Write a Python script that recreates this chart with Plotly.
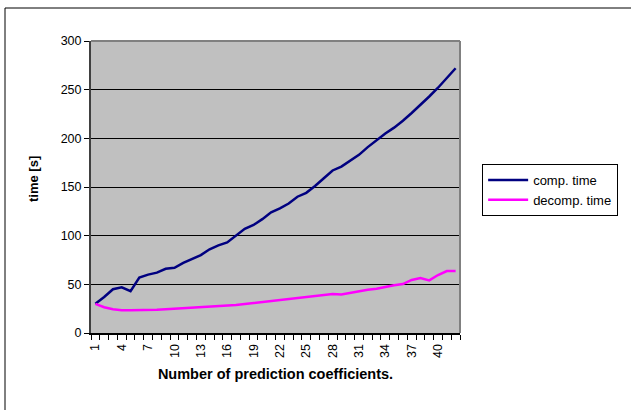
import plotly.graph_objects as go

# Number of prediction coefficients (1..42)
coefficients = list(range(1, 43))

# Compression time [s]
comp_time = [30, 37, 45, 47, 43, 57, 60, 62, 66, 67,
             72, 76, 80, 86, 90, 93, 100, 107, 111, 117,
             124, 128, 133, 140, 144, 151, 159, 167, 171, 177,
             183, 191, 198, 205, 211, 218, 226, 234, 243, 252,
             262, 272]

# Decompression time [s]
decomp_time = [30, 26.5, 24.5, 23.5, 23.3, 23.3, 23.5, 24, 24.5, 25,
               25.5, 26, 26.5, 27, 27.6, 28.2, 28.8, 29.8, 30.8, 31.9,
               32.9, 33.9, 34.8, 35.6, 36.4, 37.3, 38.4, 40, 39.6, 41.4,
               42.8, 44.5, 45.5, 47.6, 49, 50.3, 54.5, 56.5, 54.1, 59.6,
               63.7, 63.7]

label_vals = list(range(1, 41, 3))
y_ticks = [0, 50, 100, 150, 200, 250, 300]

FONT = "Liberation Sans, Arial, sans-serif"

fig = go.Figure()
fig.add_trace(go.Scatter(x=coefficients, y=comp_time, mode="lines",
                         name="comp. time",
                         line=dict(color="#000080", width=2.5)))
fig.add_trace(go.Scatter(x=coefficients, y=decomp_time, mode="lines",
                         name="decomp. time",
                         line=dict(color="#FF00FF", width=2.5)))

fig.update_layout(
    width=631, height=410,
    margin=dict(l=91, r=171, t=41, b=77),
    paper_bgcolor="white",
    plot_bgcolor="#C0C0C0",
    font=dict(family=FONT, size=12, color="black"),
    legend=dict(
        x=1.06, y=0.579, xanchor="left", yanchor="top",
        bgcolor="white", bordercolor="black", borderwidth=1,
        font=dict(family=FONT, size=13, color="black"),
        tracegroupgap=0, itemwidth=40,
    ),
    xaxis=dict(
        range=[0.5, 42.5],
        tickmode="array", tickvals=label_vals,
        ticktext=[str(v) for v in label_vals],
        tickangle=-90,
        ticks="outside", ticklen=0, tickcolor="black",
        minor=dict(tickmode="linear", tick0=0.5, dtick=1,
                   ticks="outside", ticklen=5, tickcolor="black",
                   tickwidth=1, showgrid=False),
        showgrid=False, zeroline=False,
        showline=True, linecolor="black", linewidth=2,
        tickfont=dict(size=12.5),
        ticklabelstandoff=4,
        title=dict(text="<b>Number of prediction coefficients.</b>",
                   font=dict(size=14.5), standoff=12),
    ),
    yaxis=dict(
        range=[0, 300],
        tickmode="array", tickvals=y_ticks,
        ticks="outside", ticklen=5, tickcolor="black",
        showgrid=True, gridcolor="black", gridwidth=1,
        zeroline=False,
        showline=True, linecolor="#404040", linewidth=2,
        tickfont=dict(size=12.5),
    ),
    annotations=[
        dict(text="<b>time [s]</b>", xref="paper", yref="paper",
             x=-58 / 369, y=(333 - 179) / 292, xanchor="center",
             yanchor="middle", textangle=-90, showarrow=False,
             font=dict(family=FONT, size=13, color="black")),
    ],
    shapes=[
        # gray frame on the top and right of the plot area
        dict(type="line", xref="paper", yref="paper", x0=0, x1=1, y0=1, y1=1,
             line=dict(color="#808080", width=2)),
        dict(type="line", xref="paper", yref="paper", x0=1, x1=1, y0=0, y1=1,
             line=dict(color="#808080", width=2)),
        # outer chart border (left and top)
        dict(type="line", xref="paper", yref="paper",
             x0=-86 / 369, x1=-86 / 369, y0=-77 / 292, y1=(333 - 8) / 292,
             line=dict(color="black", width=1)),
        dict(type="line", xref="paper", yref="paper",
             x0=-86 / 369, x1=540 / 369, y0=(333 - 8) / 292, y1=(333 - 8) / 292,
             line=dict(color="black", width=1)),
    ],
)

fig.write_html("out.html")
